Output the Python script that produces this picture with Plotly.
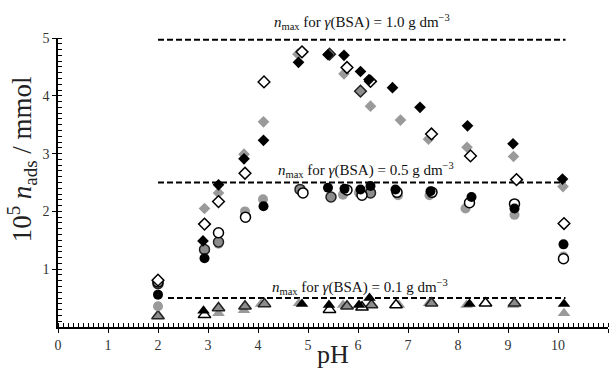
import plotly.graph_objects as go

# ---- data ----
# gamma(BSA) = 1.0 g dm-3 (diamonds)
d_black_x = [2.90, 3.21, 3.72, 4.11, 4.81, 5.40, 5.72, 6.05, 6.22, 6.69, 7.24, 8.19, 9.10, 10.09]
d_black_y = [1.49, 2.46, 2.91, 3.23, 4.58, 4.71, 4.70, 4.42, 4.28, 4.14, 3.80, 3.48, 3.17, 2.56]
d_gray_x = [2.93, 3.21, 3.72, 4.11, 4.80, 5.72, 6.25, 6.85, 7.41, 8.18, 9.11, 10.10]
d_gray_y = [2.05, 2.32, 2.99, 3.55, 4.72, 4.38, 3.82, 3.58, 3.25, 3.11, 2.95, 2.43]
d_grayo_x = [5.43, 6.05]
d_grayo_y = [4.72, 4.08]
d_open_x = [2.00, 2.93, 3.21, 3.74, 4.12, 4.88, 5.78, 6.25, 7.47, 8.25, 9.17, 10.12]
d_open_y = [0.81, 1.78, 2.17, 2.66, 4.24, 4.76, 4.49, 4.25, 3.34, 2.96, 2.55, 1.79]

# gamma(BSA) = 0.5 g dm-3 (circles)
c_black_x = [2.00, 2.93, 4.11, 5.40, 5.73, 6.05, 6.25, 6.75, 7.45, 8.27, 9.13, 10.11]
c_black_y = [0.56, 1.19, 2.09, 2.41, 2.39, 2.38, 2.44, 2.38, 2.35, 2.25, 2.05, 1.43]
c_gray_x = [2.00, 3.21, 3.74, 4.10, 5.70, 6.02, 6.80, 7.43, 8.15, 9.13, 10.11]
c_gray_y = [0.36, 1.44, 2.00, 2.21, 2.29, 2.32, 2.28, 2.28, 2.05, 1.94, 1.22]
c_grayo_x = [2.00, 2.93, 3.21, 4.84, 5.46, 6.25]
c_grayo_y = [0.75, 1.34, 1.47, 2.38, 2.25, 2.32]
c_open_x = [2.00, 3.21, 3.75, 4.90, 5.78, 6.08, 6.78, 7.48, 8.23, 9.13, 10.11]
c_open_y = [0.78, 1.63, 1.90, 2.32, 2.37, 2.28, 2.33, 2.33, 2.15, 2.13, 1.18]

# gamma(BSA) = 0.1 g dm-3 (triangles)
t_black_x = [2.91, 4.88, 5.42, 6.02, 6.23, 8.23, 10.12]
t_black_y = [0.28, 0.40, 0.38, 0.38, 0.50, 0.40, 0.40]
t_gray_x = [3.21, 3.72, 4.06, 4.82, 5.70, 6.82, 7.42, 8.17, 9.10, 10.12]
t_gray_y = [0.24, 0.29, 0.40, 0.41, 0.38, 0.38, 0.41, 0.38, 0.38, 0.24]
t_grayo_x = [2.00, 3.21, 3.74, 4.13, 5.78, 6.27, 7.47, 9.13]
t_grayo_y = [0.19, 0.33, 0.36, 0.40, 0.36, 0.38, 0.41, 0.41]
t_open_x = [2.93, 5.43, 6.08, 6.76, 8.55]
t_open_y = [0.21, 0.30, 0.34, 0.38, 0.41]

# n_max levels
nmax_levels = [4.97, 2.50, 0.50]
nmax_x0 = [2.0, 2.0, 2.2]
nmax_x1 = 10.15
nmax_labels = ["1.0", "0.5", "0.1"]
label_y = [5.27, 2.72, 0.70]
label_x = [6.08, 6.16, 6.04]
Y_MAX = 5.0

FONT = "Liberation Serif, Times New Roman, serif"
GRAY = "#9a9a9a"
GRAYO = "#8c8c8c"

fig = go.Figure()

# dashed n_max lines
for lv, x0 in zip(nmax_levels, nmax_x0):
    fig.add_trace(go.Scatter(x=[x0, nmax_x1], y=[lv, lv], mode="lines",
                             line=dict(color="black", width=2, dash="6px,3px"),
                             hoverinfo="skip", showlegend=False, cliponaxis=False))

def add(x, y, symbol, size, fill, line_color, line_w):
    fig.add_trace(go.Scatter(x=x, y=y, mode="markers", showlegend=False, cliponaxis=False,
                             marker=dict(symbol=symbol, size=size, color=fill,
                                         line=dict(color=line_color, width=line_w))))

for sym, size, sets in [
    ("triangle-up", 11, (t_gray_x, t_gray_y, t_grayo_x, t_grayo_y, t_open_x, t_open_y, t_black_x, t_black_y)),
    ("circle", 10, (c_gray_x, c_gray_y, c_grayo_x, c_grayo_y, c_open_x, c_open_y, c_black_x, c_black_y)),
    ("diamond", 9, (d_gray_x, d_gray_y, d_grayo_x, d_grayo_y, d_open_x, d_open_y, d_black_x, d_black_y)),
]:
    gx, gy, ox, oy, wx, wy, bx, by = sets
    add(gx, gy, sym, size, GRAY, GRAY, 0)
    add(ox, oy, sym, size, GRAYO, "#222222", 1.5)
    add(wx, wy, sym, size, "white", "black", 1.5)
    add(bx, by, sym, size, "black", "black", 0)

for lab, lx, ly in zip(nmax_labels, label_x, label_y):
    fig.add_annotation(x=lx, y=ly / Y_MAX, xref="x", yref="paper", showarrow=False,
                       xanchor="center", yanchor="middle",
                       text=f"<i>n</i><sub>max</sub> for <i>γ</i>(BSA) = {lab} g dm<sup>−3</sup>",
                       font=dict(family=FONT, size=15, color="#111111"))

# axis titles as annotations for exact placement
fig.add_annotation(x=-0.0655, y=0.58, xref="paper", yref="paper", showarrow=False,
                   textangle=-90, xanchor="center", yanchor="middle",
                   text="10<sup>5</sup> <i>n</i><sub>ads</sub> / mmol",
                   font=dict(family=FONT, size=27, color="#222222"))
fig.add_annotation(x=0.5, y=-0.095, xref="paper", yref="paper", showarrow=False,
                   xanchor="center", yanchor="middle",
                   text="pH", font=dict(family=FONT, size=26, color="#222222"))

fig.update_layout(
    width=611, height=370,
    margin=dict(l=58, r=3, t=38, b=43, autoexpand=False),
    paper_bgcolor="white", plot_bgcolor="white",
    font=dict(family=FONT, color="#222222"),
    xaxis=dict(range=[0, 11], dtick=1, tick0=0, showgrid=False, zeroline=False,
               showline=True, linecolor="black", linewidth=1.5, automargin=False,
               ticks="outside", ticklen=4, tickwidth=1.2, tickcolor="black",
               ticklabelstandoff=0,
               minor=dict(ticks="inside", dtick=0.1, ticklen=4, tickcolor="black", tickwidth=1),
               tickfont=dict(family=FONT, size=14, color="#333333")),
    yaxis=dict(range=[0, Y_MAX], dtick=1, tick0=0, showgrid=False, zeroline=False,
               showline=True, linecolor="black", linewidth=1.5, automargin=False,
               ticks="outside", ticklen=4, tickwidth=1.2, tickcolor="black",
               minor=dict(ticks="inside", dtick=0.1, ticklen=4, tickcolor="black", tickwidth=1),
               tickvals=[1, 2, 3, 4, 5],
               tickfont=dict(family=FONT, size=14, color="#333333")),
)

fig.write_html("out.html")
